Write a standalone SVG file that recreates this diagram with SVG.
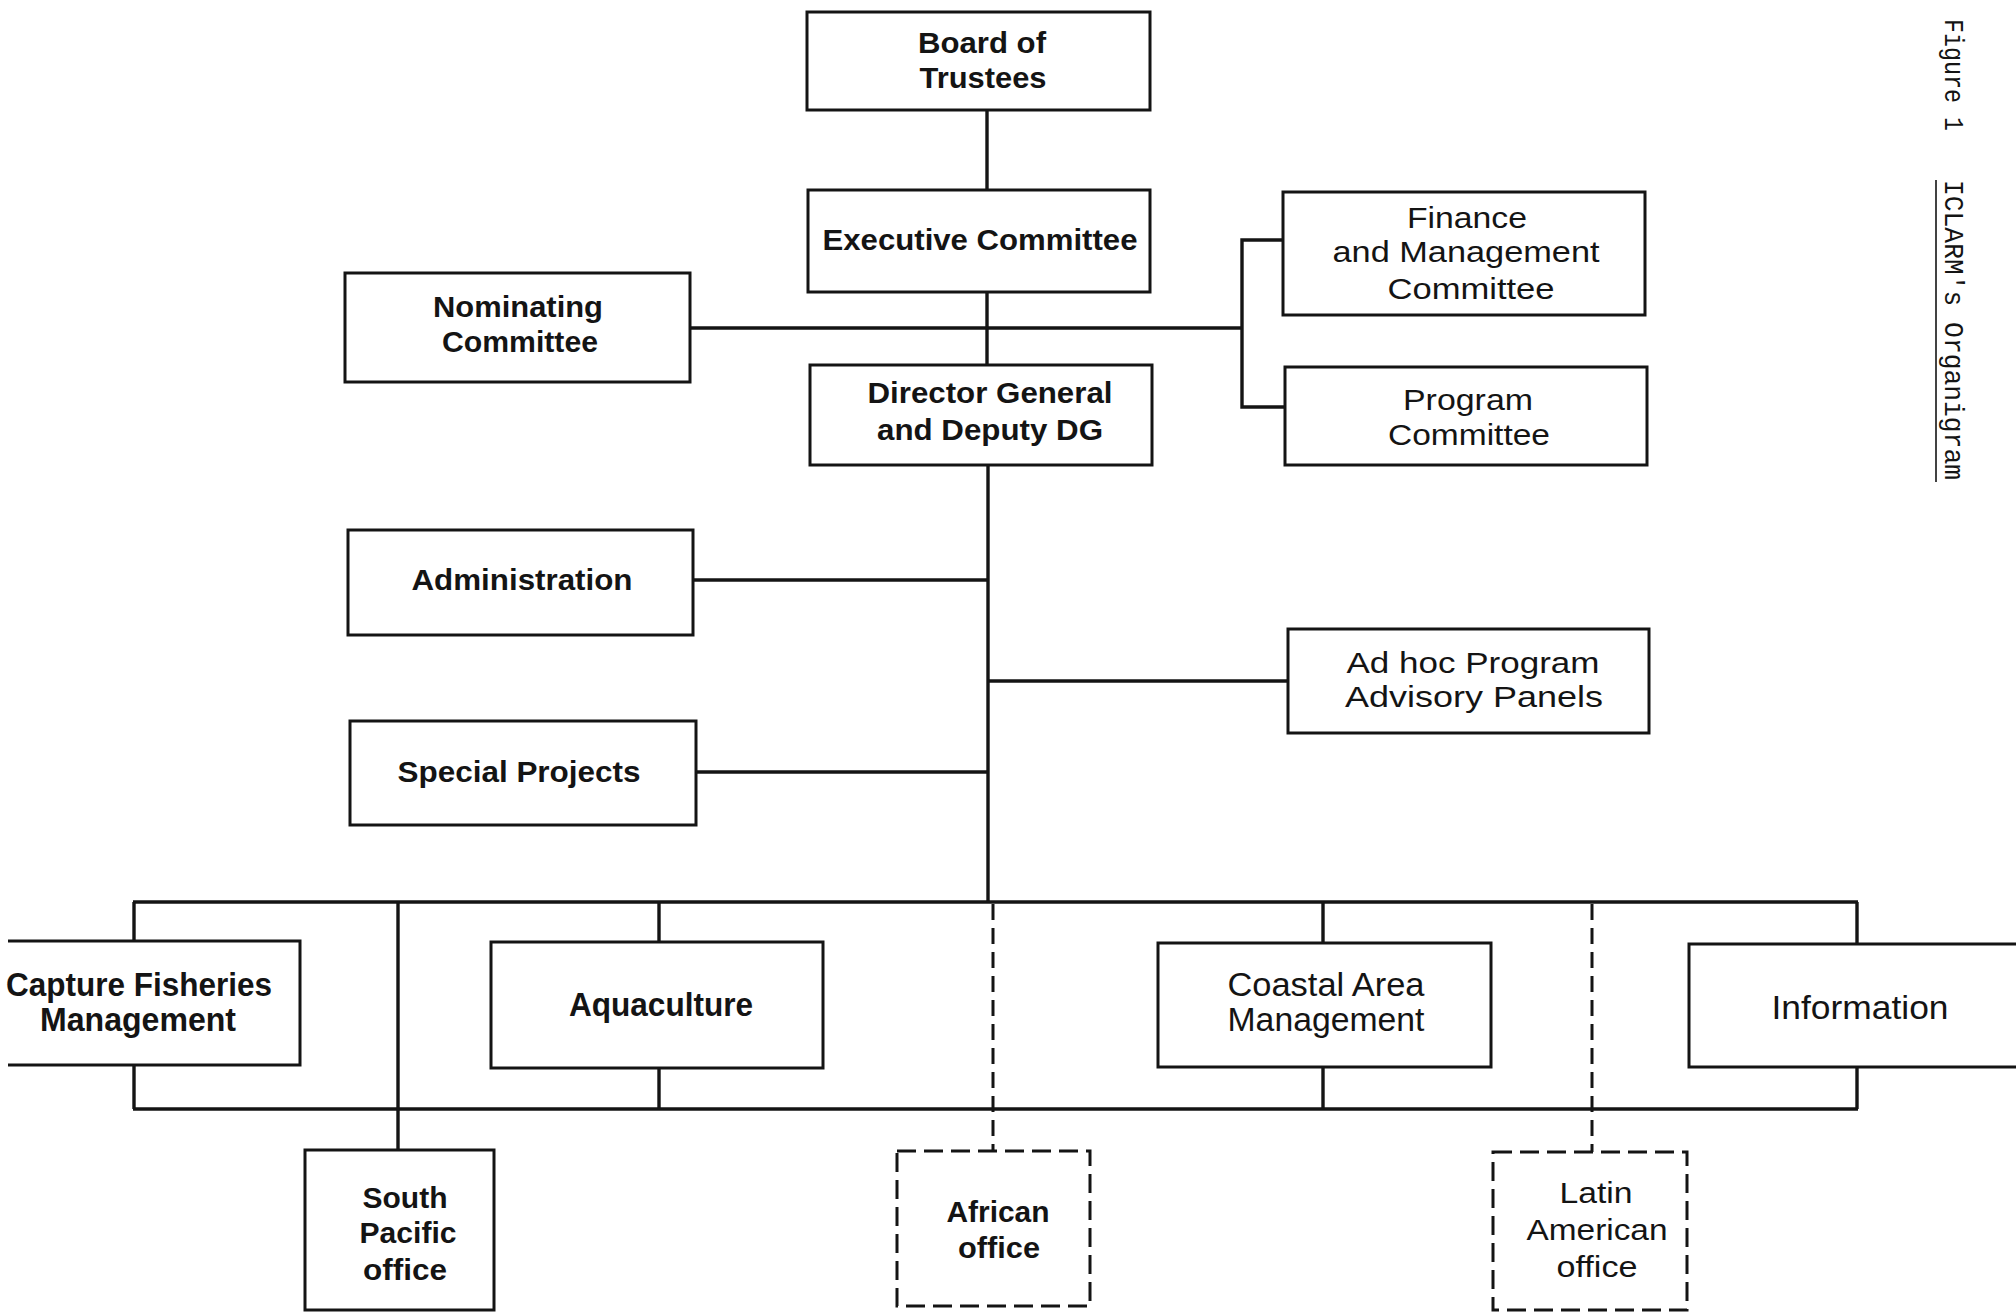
<svg xmlns="http://www.w3.org/2000/svg" width="2016" height="1314" viewBox="0 0 2016 1314">
<style>
.bg{fill:#fff}
.box{fill:none;stroke:#141414;stroke-width:3}
.dash{stroke-dasharray:19 8}
.conn line,.conn path{stroke:#141414;stroke-width:3.4;fill:none}
.conn .dl{stroke-width:3;stroke-dasharray:16 8}
text{font-family:"Liberation Sans",Arial,Helvetica,sans-serif;fill:#141414;text-anchor:middle}
.b{font-weight:bold;font-size:29px}
.r{font-size:29px}
.c{font-size:33px}
.cap{font-family:"Liberation Mono","Courier New",monospace;font-size:27px;text-anchor:start}
</style>
<rect class="bg" x="0" y="0" width="2016" height="1314"/>

<g id="connectors" class="conn">
  <line x1="987" y1="110" x2="987" y2="190"/>
  <line x1="987" y1="292" x2="987" y2="365"/>
  <line x1="690" y1="328" x2="1242" y2="328"/>
  <path d="M1283,240 H1242 V407 H1285"/>
  <line x1="988" y1="465" x2="988" y2="902"/>
  <line x1="693" y1="580" x2="988" y2="580"/>
  <line x1="988" y1="681" x2="1288" y2="681"/>
  <line x1="696" y1="772" x2="988" y2="772"/>
  <line x1="133" y1="902" x2="1858" y2="902"/>
  <line x1="133" y1="1109" x2="1858" y2="1109"/>
  <line x1="134" y1="902" x2="134" y2="941"/>
  <line x1="134" y1="1065" x2="134" y2="1109"/>
  <line x1="398" y1="902" x2="398" y2="1150"/>
  <line x1="659" y1="902" x2="659" y2="942"/>
  <line x1="659" y1="1068" x2="659" y2="1109"/>
  <line class="dl" x1="993" y1="904" x2="993" y2="1151"/>
  <line x1="1323" y1="902" x2="1323" y2="943"/>
  <line x1="1323" y1="1067" x2="1323" y2="1109"/>
  <line class="dl" x1="1592" y1="904" x2="1592" y2="1152"/>
  <line x1="1857" y1="902" x2="1857" y2="944"/>
  <line x1="1857" y1="1067" x2="1857" y2="1109"/>
</g>

<g id="board">
  <rect class="box" x="807" y="12" width="343" height="98"/>
  <text class="b" x="982" y="53" textLength="128" lengthAdjust="spacingAndGlyphs">Board of</text>
  <text class="b" x="983" y="88" textLength="127" lengthAdjust="spacingAndGlyphs">Trustees</text>
</g>
<g id="executive">
  <rect class="box" x="808" y="190" width="342" height="102"/>
  <text class="b" x="980" y="250" textLength="315" lengthAdjust="spacingAndGlyphs">Executive Committee</text>
</g>
<g id="director">
  <rect class="box" x="810" y="365" width="342" height="100"/>
  <text class="b" x="990" y="403" textLength="245" lengthAdjust="spacingAndGlyphs">Director General</text>
  <text class="b" x="990" y="440" textLength="226" lengthAdjust="spacingAndGlyphs">and Deputy DG</text>
</g>
<g id="nominating">
  <rect class="box" x="345" y="273" width="345" height="109"/>
  <text class="b" x="518" y="317" textLength="170" lengthAdjust="spacingAndGlyphs">Nominating</text>
  <text class="b" x="520" y="352" textLength="156" lengthAdjust="spacingAndGlyphs">Committee</text>
</g>
<g id="finance">
  <rect class="box" x="1283" y="192" width="362" height="123"/>
  <text class="r" x="1467" y="228" textLength="120" lengthAdjust="spacingAndGlyphs">Finance</text>
  <text class="r" x="1466" y="262" textLength="267" lengthAdjust="spacingAndGlyphs">and Management</text>
  <text class="r" x="1471" y="299" textLength="167" lengthAdjust="spacingAndGlyphs">Committee</text>
</g>
<g id="program">
  <rect class="box" x="1285" y="367" width="362" height="98"/>
  <text class="r" x="1468" y="410" textLength="130" lengthAdjust="spacingAndGlyphs">Program</text>
  <text class="r" x="1469" y="445" textLength="162" lengthAdjust="spacingAndGlyphs">Committee</text>
</g>
<g id="administration">
  <rect class="box" x="348" y="530" width="345" height="105"/>
  <text class="b" x="522" y="590" textLength="221" lengthAdjust="spacingAndGlyphs">Administration</text>
</g>
<g id="adhoc">
  <rect class="box" x="1288" y="629" width="361" height="104"/>
  <text class="r" x="1473" y="673" textLength="253" lengthAdjust="spacingAndGlyphs">Ad hoc Program</text>
  <text class="r" x="1474" y="707" textLength="258" lengthAdjust="spacingAndGlyphs">Advisory Panels</text>
</g>
<g id="special">
  <rect class="box" x="350" y="721" width="346" height="104"/>
  <text class="b" x="519" y="782" textLength="243" lengthAdjust="spacingAndGlyphs">Special Projects</text>
</g>
<g id="capture">
  <path class="box" d="M8,941 H300 V1065 H8"/>
  <text class="b c" x="139" y="996" textLength="266" lengthAdjust="spacingAndGlyphs">Capture Fisheries</text>
  <text class="b c" x="138" y="1031" textLength="196" lengthAdjust="spacingAndGlyphs">Management</text>
</g>
<g id="aquaculture">
  <rect class="box" x="491" y="942" width="332" height="126"/>
  <text class="b c" x="661" y="1016" textLength="184" lengthAdjust="spacingAndGlyphs">Aquaculture</text>
</g>
<g id="coastal">
  <rect class="box" x="1158" y="943" width="333" height="124"/>
  <text class="c" x="1326" y="996" textLength="197" lengthAdjust="spacingAndGlyphs">Coastal Area</text>
  <text class="c" x="1326" y="1031" textLength="197" lengthAdjust="spacingAndGlyphs">Management</text>
</g>
<g id="information">
  <path class="box" d="M2016,944 H1689 V1067 H2016"/>
  <text class="c" x="1860" y="1019" textLength="177" lengthAdjust="spacingAndGlyphs">Information</text>
</g>
<g id="southpacific">
  <rect class="box" x="305" y="1150" width="189" height="160"/>
  <text class="b" x="405" y="1208" textLength="85" lengthAdjust="spacingAndGlyphs">South</text>
  <text class="b" x="408" y="1243" textLength="97" lengthAdjust="spacingAndGlyphs">Pacific</text>
  <text class="b" x="405" y="1280" textLength="84" lengthAdjust="spacingAndGlyphs">office</text>
</g>
<g id="african">
  <rect class="box dash" x="897" y="1151" width="193" height="155"/>
  <text class="b" x="998" y="1222" textLength="103" lengthAdjust="spacingAndGlyphs">African</text>
  <text class="b" x="999" y="1258" textLength="82" lengthAdjust="spacingAndGlyphs">office</text>
</g>
<g id="latinamerican">
  <rect class="box dash" x="1493" y="1152" width="194" height="158"/>
  <text class="r" x="1596" y="1203" textLength="73" lengthAdjust="spacingAndGlyphs">Latin</text>
  <text class="r" x="1597" y="1240" textLength="141" lengthAdjust="spacingAndGlyphs">American</text>
  <text class="r" x="1597" y="1277" textLength="81" lengthAdjust="spacingAndGlyphs">office</text>
</g>

<g id="caption">
  <text class="cap" transform="translate(1945,19) rotate(90)" textLength="112" lengthAdjust="spacingAndGlyphs">Figure 1</text>
  <text class="cap" transform="translate(1945,180) rotate(90)" textLength="300" lengthAdjust="spacingAndGlyphs">ICLARM's Organigram</text>
  <line x1="1936" y1="180" x2="1936" y2="482" stroke="#141414" stroke-width="1.6"/>
</g>
</svg>
